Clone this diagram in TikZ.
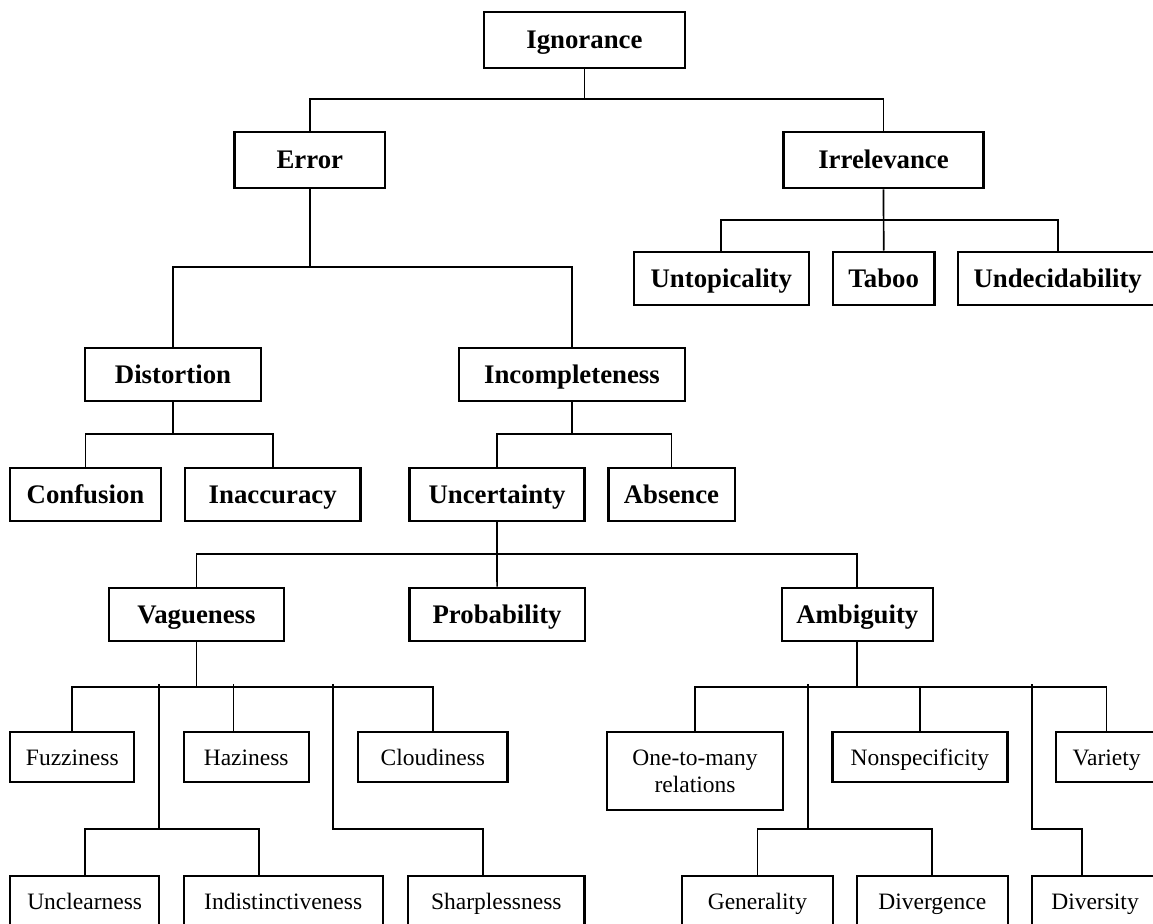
\documentclass[tikz,border=0pt]{standalone}
\usepackage{fontspec}
\setmainfont{Liberation Serif}
\begin{document}
\begin{tikzpicture}[x=1pt,y=-1pt]
\tikzset{
  box/.style={draw, line width=2.3pt, inner sep=0pt, anchor=center},
  hbox/.style={box, font=\fontsize{26.8}{30}\selectfont\bfseries, text height=17.7pt, text depth=0pt},
  lbox/.style={box, font=\fontsize{23.5}{27}\selectfont, text height=15.6pt, text depth=0pt},
  mbox/.style={box, font=\fontsize{23.5}{27}\selectfont, align=center},
  link/.style={line width=1.7pt},
}
\useasboundingbox (0,0) rectangle (1153,923);
\clip (0,0) rectangle (1153,923);

% --- upper levels (bold) ---
\node[hbox, minimum width=200.8pt, minimum height=56pt]   (ign) at (584.4,40)    {Ignorance};
\node[hbox, minimum width=150.4pt, minimum height=56.6pt] (err) at (309.8,160)   {Error};
\node[hbox, minimum width=200pt,   minimum height=56.6pt] (irr) at (883.5,160)   {Irrelevance};
\node[hbox, minimum width=175.2pt, minimum height=53.3pt] (unt) at (721.3,278.3) {Untopicality};
\node[hbox, minimum width=101.4pt, minimum height=53.3pt] (tab) at (883.7,278.3) {Taboo};
\node[hbox, minimum width=199.6pt, minimum height=53.3pt] (und) at (1057.7,278.3) {Undecidability};
\node[hbox, minimum width=176pt,   minimum height=53.3pt] (dis) at (173,374.3)   {Distortion};
\node[hbox, minimum width=225.6pt, minimum height=53.3pt] (inc) at (572,374.3)   {Incompleteness};
\node[hbox, minimum width=150.4pt, minimum height=53.3pt] (con) at (85.5,494.3)  {Confusion};
\node[hbox, minimum width=175.7pt, minimum height=53.3pt] (ina) at (272.7,494.3) {Inaccuracy};
\node[hbox, minimum width=175pt,   minimum height=53.3pt] (unc) at (497,494.3)   {Uncertainty};
\node[hbox, minimum width=126.3pt, minimum height=53.3pt] (abs) at (671.5,494.3) {Absence};
\node[hbox, minimum width=175pt,   minimum height=53.6pt] (vag) at (196.5,614.5) {Vagueness};
\node[hbox, minimum width=175.3pt, minimum height=53.6pt] (pro) at (497.1,614.5) {Probability};
\node[hbox, minimum width=151.3pt, minimum height=53.6pt] (amb) at (857.3,614.5) {Ambiguity};

% --- lower levels (regular) ---
\node[lbox, minimum width=124pt,   minimum height=50pt] (fuz) at (72.3,757.3)   {Fuzziness};
\node[lbox, minimum width=125.1pt, minimum height=50pt] (haz) at (246.2,757.3)  {Haziness};
\node[lbox, minimum width=149.3pt, minimum height=50pt] (clo) at (432.8,757.3)  {Cloudiness};
\node[mbox, minimum width=175.5pt, minimum height=77.7pt] (otm) at (695,771.1)  {One-to-many\\relations};
\node[lbox, minimum width=175.1pt, minimum height=50pt] (nsp) at (919.9,757.3)  {Nonspecificity};
\node[lbox, minimum width=100.8pt, minimum height=50pt] (var) at (1106.6,757.3) {Variety};
\node[lbox, minimum width=148.9pt, minimum height=52pt] (ucl) at (84.7,902)     {Unclearness};
\node[lbox, minimum width=199pt,   minimum height=52pt] (ind) at (283.2,902)    {Indistinctiveness};
\node[lbox, minimum width=176.1pt, minimum height=52pt] (sha) at (496.3,902)    {Sharplessness};
\node[lbox, minimum width=150.5pt, minimum height=52pt] (gen) at (757.4,902)    {Generality};
\node[lbox, minimum width=150.9pt, minimum height=52pt] (dvg) at (932.3,902)    {Divergence};
\node[lbox, minimum width=126pt,   minimum height=52pt] (dvs) at (1095,902)     {Diversity};

% --- bus levels and junctions ---
\coordinate (b0) at (0,99.3);
\coordinate (b1) at (0,220);
\coordinate (b2) at (0,267.3);
\coordinate (b3) at (0,434.3);
\coordinate (b4) at (0,554.3);
\coordinate (b5) at (0,686.7);
\coordinate (b5t) at (0,684);
\coordinate (b6) at (0,828.7);
\coordinate (ja) at (158.8,684);
\coordinate (jb) at (333.3,684);
\coordinate (jc) at (807.7,684);
\coordinate (jd) at (1032,684);
\coordinate (hazin) at ([xshift=-12.8pt]haz.north);
\coordinate (indin) at ([xshift=-24.5pt]ind.north);
\coordinate (shain) at ([xshift=-13pt]sha.north);
\coordinate (dvsin) at ([xshift=-13pt]dvs.north);

% --- connectors ---
\draw[link] (ign.south) -- (ign.south |- b0);
\draw[link] (err.north) |- (irr.north |- b0) -- (irr.north);

\draw[link] (irr.south) -- (tab.north);
\draw[link] (unt.north) |- (und.north |- b1) -- (und.north);

\draw[link] (err.south) -- (err.south |- b2);
\draw[link] (dis.north) |- (inc.north |- b2) -- (inc.north);

\draw[link] (dis.south) -- (dis.south |- b3);
\draw[link] (con.north) |- (ina.north |- b3) -- (ina.north);

\draw[link] (inc.south) -- (inc.south |- b3);
\draw[link] (unc.north) |- (abs.north |- b3) -- (abs.north);

\draw[link] (unc.south) -- (pro.north);
\draw[link] (vag.north) |- (amb.north |- b4) -- (amb.north);

\draw[link] (vag.south) -- (vag.south |- b5);
\draw[link] (fuz.north) |- (clo.north |- b5) -- (clo.north);
\draw[link] (hazin |- b5t) -- (hazin);
\draw[link] (ja) -- (ja |- b6);
\draw[link] (ucl.north) |- (indin |- b6) -- (indin);
\draw[link] (jb) |- (shain |- b6) -- (shain);

\draw[link] (amb.south) -- (amb.south |- b5);
\draw[link] (otm.north) |- (var.north |- b5) -- (var.north);
\draw[link] (nsp.north) -- (nsp.north |- b5);
\draw[link] (jc) -- (jc |- b6);
\draw[link] (gen.north) |- (dvg.north |- b6) -- (dvg.north);
\draw[link] (jd) |- (dvsin |- b6) -- (dvsin);
\end{tikzpicture}
\end{document}
